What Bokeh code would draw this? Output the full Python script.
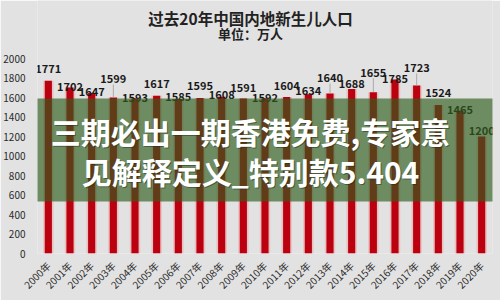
from bokeh.plotting import figure
from bokeh.models import FactorRange, Range1d, BoxAnnotation, Label, FixedTicker, ColumnDataSource
from bokeh.core.properties import value
from bokeh.embed import file_html
from bokeh.resources import INLINE
import math

years = ["2000年", "2001年", "2002年", "2003年", "2004年", "2005年", "2006年", "2007年",
         "2008年", "2009年", "2010年", "2011年", "2012年", "2013年", "2014年", "2015年",
         "2016年", "2017年", "2018年", "2019年", "2020年"]
births = [1771, 1702, 1647, 1599, 1593, 1617, 1585, 1595, 1608, 1591, 1592, 1604,
          1634, 1640, 1688, 1655, 1785, 1723, 1524, 1465, 1200]
y_ticks = [0, 200, 400, 600, 800, 1000, 1200, 1400, 1600, 1800, 2000]

# label lift above bar top (pixels) - layout style
label_lift = [12, 1, 1.5, 19, 0.5, 12, 2, 12, 2, 11, 1, 12, 4, 16, 5, 20, 1, 18, 12, 1, 6]

title_text = "过去20年中国内地新生儿人口"
subtitle_text = "单位：万人"
banner_line1 = "三期必出一期香港免费,专家意"
banner_line2 = "见解释定义_特别款5.404"

CJK = "Noto Sans CJK SC"
BG = "#e2e2e2"

# frame runs from the top of the canvas down to the zero line (y=253 px);
# 2000 sits at y=58 px, so the range top leaves room for the titles
Y_TOP = 2000 * 253 / 195

p = figure(width=500, height=300, x_range=FactorRange(*years), y_range=Range1d(0, Y_TOP),
           output_backend="svg", toolbar_location=None,
           min_border_left=35, min_border_right=8, min_border_top=0, min_border_bottom=47)
p.background_fill_color = BG
p.border_fill_color = BG
p.outline_line_color = None
p.xgrid.grid_line_color = None
p.ygrid.grid_line_color = None

for ax in (p.xaxis[0], p.yaxis[0]):
    ax.axis_line_color = None
    ax.major_tick_line_color = None
    ax.minor_tick_line_color = None
    ax.major_label_text_font = CJK
    ax.major_label_text_color = "#2a2a2a"
    ax.major_label_text_font_size = "10px"

p.yaxis.ticker = FixedTicker(ticks=y_ticks)
p.yaxis.major_label_standoff = 6
p.xaxis.major_label_orientation = math.pi / 4
p.xaxis.major_label_standoff = 4
p.x_range.range_padding = 0
p.x_range.group_padding = 0

src = ColumnDataSource(dict(
    x=years, top=births, lbl=[str(v) for v in births],
    yoff=[-l for l in label_lift],
))

# glow
p.vbar(x="x", top="top", width=0.48, source=src, fill_color="#ff5a5a", fill_alpha=0.25, line_color=None)
p.vbar(x="x", top="top", width=0.33, source=src, fill_color="#bb0010", line_color=None)

# leader lines for labels lifted well above bars
unit_per_px = 2000 / 195
lx, ly0, ly1 = [], [], []
for yr, v, l in zip(years, births, label_lift):
    if l >= 15:
        lx.append(yr)
        ly0.append(v)
        ly1.append(v + (l - 6) * unit_per_px)
p.segment(x0=lx, y0=ly0, x1=lx, y1=ly1, line_color="#aaaaaa", line_width=1)

p.text(x="x", y="top", text="lbl", y_offset="yoff", source=src,
       text_font=value(CJK), text_font_style="bold", text_font_size="11px",
       text_color="#1a1a1a", text_align="center", text_baseline="middle")

p.add_layout(Label(x=250, y=17, x_units="canvas", y_units="canvas", text=title_text,
                   text_font=CJK, text_font_style="bold", text_font_size="15.5px",
                   text_color="#222222", text_align="center", text_baseline="middle"))
p.add_layout(Label(x=250, y=33, x_units="canvas", y_units="canvas", text=subtitle_text,
                   text_font=CJK, text_font_style="bold", text_font_size="13px",
                   text_color="#222222", text_align="center", text_baseline="middle"))

p.add_layout(BoxAnnotation(left=0, right=500, top=98, bottom=201,
                           left_units="canvas", right_units="canvas",
                           top_units="canvas", bottom_units="canvas",
                           fill_color="#305d1d", fill_alpha=0.65, line_color=None))

for txt, yy in ((banner_line1, 130), (banner_line2, 170)):
    p.add_layout(Label(x=251, y=yy + 1.5, x_units="canvas", y_units="canvas", text=txt,
                       text_font=CJK, text_font_style="bold", text_font_size="30px",
                       text_color="#1e2e14", text_alpha=0.5,
                       text_align="center", text_baseline="middle"))
    p.add_layout(Label(x=250, y=yy, x_units="canvas", y_units="canvas", text=txt,
                       text_font=CJK, text_font_style="bold", text_font_size="30px",
                       text_color="white", text_align="center", text_baseline="middle"))

open("out.html", "w").write(file_html(p, INLINE))
